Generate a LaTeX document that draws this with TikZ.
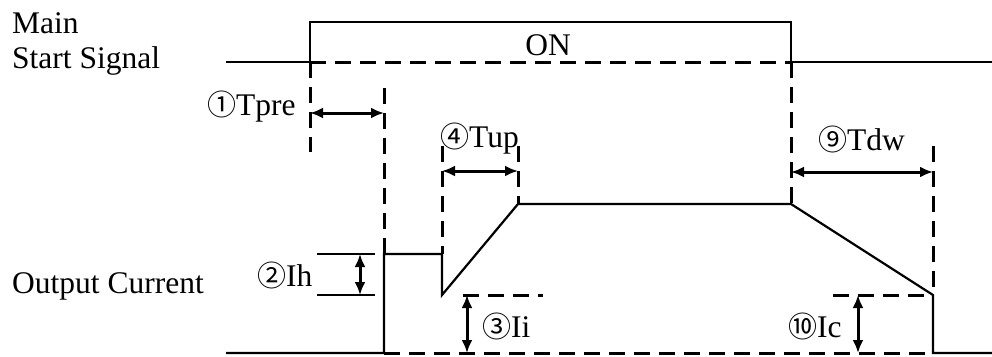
\documentclass[tikz,border=0pt]{standalone}
\usepackage{fontspec}
\setmainfont{Liberation Serif}
\newfontfamily\circfont{Noto Sans CJK SC}
\usetikzlibrary{arrows.meta}
\newcommand\cnum[1]{{\circfont\fontsize{29pt}{32pt}\selectfont #1}}
\begin{document}
\begin{tikzpicture}[x=1pt,y=-1pt,
  sig/.style={line width=2.2pt,line join=miter},
  dsh/.style={line width=3pt,dash pattern=on 16pt off 9pt},
  dim/.style={line width=3pt,{Latex[length=13pt,width=11pt]}-{Latex[length=13pt,width=11pt]}},
  lbl/.style={font=\fontsize{31.5pt}{36pt}\selectfont,inner sep=0pt,anchor=base west}]
\useasboundingbox (0,0) rectangle (992,356);
% text
\node[lbl] (main) at (12,33) {Main};
\node[lbl] (start) at (12,68) {Start Signal};
\node[lbl] (out) at (12,293) {Output Current};
\node[lbl,anchor=base] (on) at (548,55) {ON};
\node[lbl] (tpre) at (207,115) {\cnum{①}Tpre};
\node[lbl] (tup) at (440,147) {\cnum{④}Tup};
\node[lbl] (ih) at (257,286) {\cnum{②}Ih};
\node[lbl] (ii) at (482,337) {\cnum{③}Ii};
\node[lbl] (tdw) at (818,150) {\cnum{⑨}Tdw};
\node[lbl] (ic) at (788,337) {\cnum{⑩}Ic};
% coordinates
\coordinate (s0) at (226,62);
\coordinate (s1) at (310,62);
\coordinate (s2) at (310,22);
\coordinate (s3) at (791,22);
\coordinate (s4) at (791,62);
\coordinate (s5) at (992,62);
\coordinate (c0) at (226,353);
\coordinate (c1) at (384,353);
\coordinate (c2) at (384,254);
\coordinate (c3) at (442,254);
\coordinate (c4) at (442,295);
\coordinate (c5) at (518,204);
\coordinate (c6) at (791,204);
\coordinate (c7) at (933,295);
\coordinate (c8) at (933,353);
\coordinate (c9) at (992,353);
% main start signal
\draw[sig] (s0) -- (s1) -- (s2) -- (s3) -- (s4) -- (s5);
\draw[dsh] (s1) -- (s4);
% output current
\draw[sig] (c0) -- (c1) -- (c2) -- (c3) -- (c4) -- (c5) -- (c6) -- (c7) -- (c8) -- (c9);
\draw[dsh] (c1) -- (c8);
% vertical guides
\draw[dsh] (s1) -- (310,152);
\draw[dsh] (384,88) -- (c2);
\draw[dsh] (442,146) -- (c3);
\draw[dsh] (518,146) -- (c5);
\draw[dsh] (s4) -- (c6);
\draw[dsh] (933,146) -- (c7);
% time dimensions
\draw[dim] (310,113) -- (384,113);
\draw[dim] (442,171) -- (518,171);
\draw[dim] (791,172) -- (933,172);
% Ih
\draw[sig] (317,254) -- (375,254);
\draw[sig] (317,295) -- (375,295);
\draw[dim] (360,254) -- (360,295);
% Ii
\draw[dsh] (463,295) -- (543,295);
\draw[dim] (467,295) -- (467,353);
% Ic
\draw[dsh] (833,295) -- (c7);
\draw[dim] (858,295) -- (858,353);
\end{tikzpicture}
\end{document}
